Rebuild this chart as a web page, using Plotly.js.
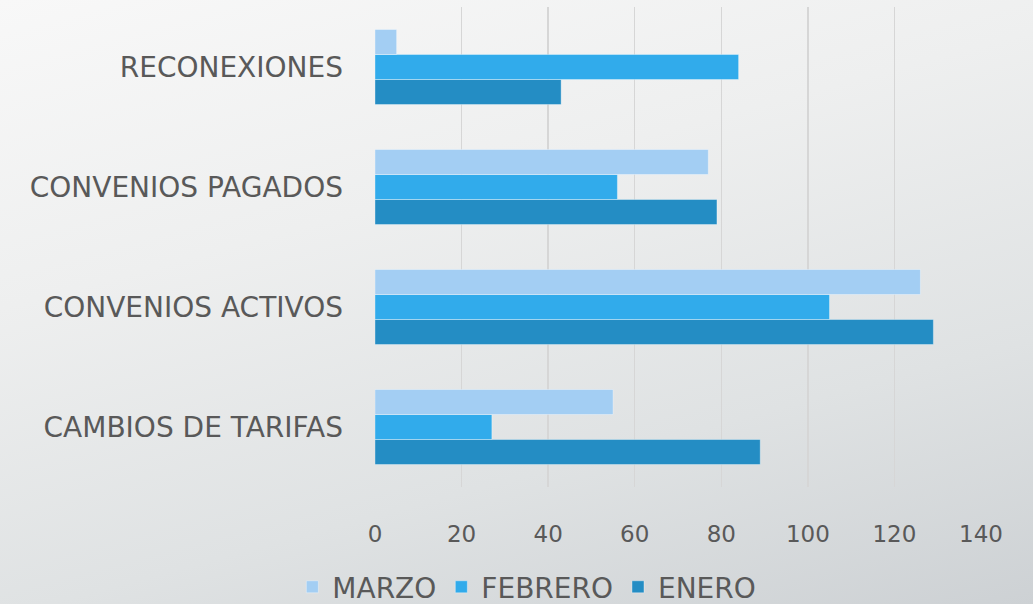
<!DOCTYPE html>
<html>
<head>
<meta charset="utf-8">
<script src="https://cdn.plot.ly/plotly-3.0.1.min.js"></script>
<style>
  html, body { margin: 0; padding: 0; }
  body { width: 1033px; height: 604px; overflow: hidden;
         background: linear-gradient(165deg, #f8f8f8 0%, #eeefef 35%, #dfe2e3 70%, #cdd1d4 100%); }
  #chart { width: 1033px; height: 604px; }
</style>
</head>
<body>
<div id="chart"></div>
<script>
const categories = ["CAMBIOS DE TARIFAS", "CONVENIOS ACTIVOS", "CONVENIOS PAGADOS", "RECONEXIONES"];
const enero   = [89, 129, 79, 43];
const febrero = [27, 105, 56, 84];
const marzo   = [55, 126, 77, 5];
const xTicks  = [0, 20, 40, 60, 80, 100, 120, 140];

const barLine = { color: 'rgba(255,255,255,0.35)', width: 1 };
const traces = [
  { type: 'bar', orientation: 'h', name: 'ENERO',   y: categories, x: enero,   marker: { color: '#248dc4', line: barLine } },
  { type: 'bar', orientation: 'h', name: 'FEBRERO', y: categories, x: febrero, marker: { color: '#31abeb', line: barLine } },
  { type: 'bar', orientation: 'h', name: 'MARZO',   y: categories, x: marzo,   marker: { color: '#a3cef3', line: barLine } }
];

const layout = {
  width: 1033, height: 604,
  paper_bgcolor: 'rgba(0,0,0,0)',
  plot_bgcolor: 'rgba(0,0,0,0)',
  margin: { l: 375, r: 52, t: 7, b: 117 },
  barmode: 'group',
  bargap: 0.375,
  bargroupgap: 0,
  font: { family: 'DejaVu Sans', color: '#595959' },
  xaxis: {
    range: [0, 140],
    tickvals: xTicks,
    ticktext: xTicks.map(String),
    showgrid: true, gridcolor: '#d6d6d6', gridwidth: 1.5,
    zeroline: false, showline: false,
    ticks: '', ticklabelstandoff: 31,
    tickfont: { size: 23, color: '#595959', family: 'DejaVu Sans' }
  },
  yaxis: {
    type: 'category',
    categoryorder: 'array', categoryarray: categories,
    showgrid: false, zeroline: false, showline: false,
    ticks: '', ticklabelstandoff: 31,
    tickfont: { size: 28, color: '#595959', family: 'DejaVu Sans' }
  },
  showlegend: true,
  legend: {
    orientation: 'h',
    traceorder: 'reversed',
    xref: 'container', yref: 'container',
    x: 0.51, xanchor: 'center',
    y: 0.028, yanchor: 'middle',
    font: { size: 28, color: '#595959', family: 'DejaVu Sans' },
    bgcolor: 'rgba(0,0,0,0)'
  }
};

Plotly.newPlot('chart', traces, layout, { displayModeBar: false, staticPlot: true });
</script>
</body>
</html>
